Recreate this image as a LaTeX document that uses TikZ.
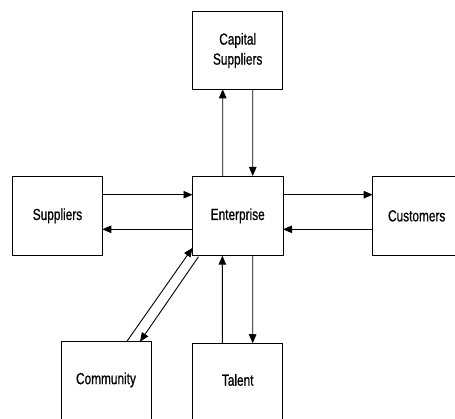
\documentclass[tikz,border=0pt]{standalone}
\usepackage{fontspec}
\setmainfont{Liberation Sans}[FakeStretch=0.74,FakeBold=0.6]
\usetikzlibrary{arrows.meta}
\begin{document}
\begin{tikzpicture}[x=1pt,y=-1pt,
  box/.style={draw,line width=0.9pt,inner sep=0pt,outer sep=0pt,align=center,
    font=\fontsize{16}{20}\selectfont},
  arr/.style={line width=0.9pt,-{Triangle[length=9pt,width=7.5pt]}},
  ln/.style={line width=0.9pt}]
\useasboundingbox (0,0) rectangle (455,419);
\clip (0,0) rectangle (455,419);
\fill[white] (0,0) rectangle (455,419);
\node[box,minimum width=90pt,minimum height=77.6pt] (cap) at (237.7,50.5) {Capital\\Suppliers};
\node[box,minimum width=89.6pt,minimum height=79.7pt] (sup) at (57.5,215.85) {Suppliers};
\node[box,minimum width=90.5pt,minimum height=79.7pt] (ent) at (237.75,215.85) {Enterprise};
\node[box,minimum width=88pt,minimum height=79.7pt] (cus) at (416.7,215.85) {Customers};
\node[box,minimum width=90pt,minimum height=79.7pt] (com) at (106,381.5) {};
\node[box,minimum width=90pt,minimum height=79.7pt] (tal) at (237.7,383.1) {};
\node[font=\fontsize{16}{20}\selectfont] (comt) at (106,380) {Community};
\node[font=\fontsize{16}{20}\selectfont] (talt) at (237.7,380) {Talent};
% suppliers <-> enterprise
\draw[arr] ([yshift=21.15pt]sup.east) -- ([yshift=21.15pt]ent.west);
\draw[arr] ([yshift=-13.45pt]ent.west) -- ([yshift=-13.45pt]sup.east);
% enterprise <-> customers
\draw[arr] ([yshift=21.15pt]ent.east) -- ([yshift=21.15pt]cus.west);
\draw[arr] ([yshift=-13.45pt]cus.west) -- ([yshift=-13.45pt]ent.east);
% capital suppliers
\draw[arr] ([xshift=-15pt]ent.north) -- ([xshift=-15pt]cap.south);
\draw[arr] ([xshift=15pt]cap.south) -- ([xshift=15pt]ent.north);
% talent
\draw[arr] ([xshift=-15.4pt]tal.north) -- ([xshift=-15.4pt]ent.south);
\draw[arr] ([xshift=15pt]ent.south) -- ([xshift=15pt]tal.north);
% community
\draw[arr] ([xshift=20.7pt]com.north) -- ([yshift=-32pt]ent.west);
\draw[arr] ([xshift=6pt,yshift=-1pt]ent.south west) -- ([xshift=34pt]com.north);
\end{tikzpicture}
\end{document}
